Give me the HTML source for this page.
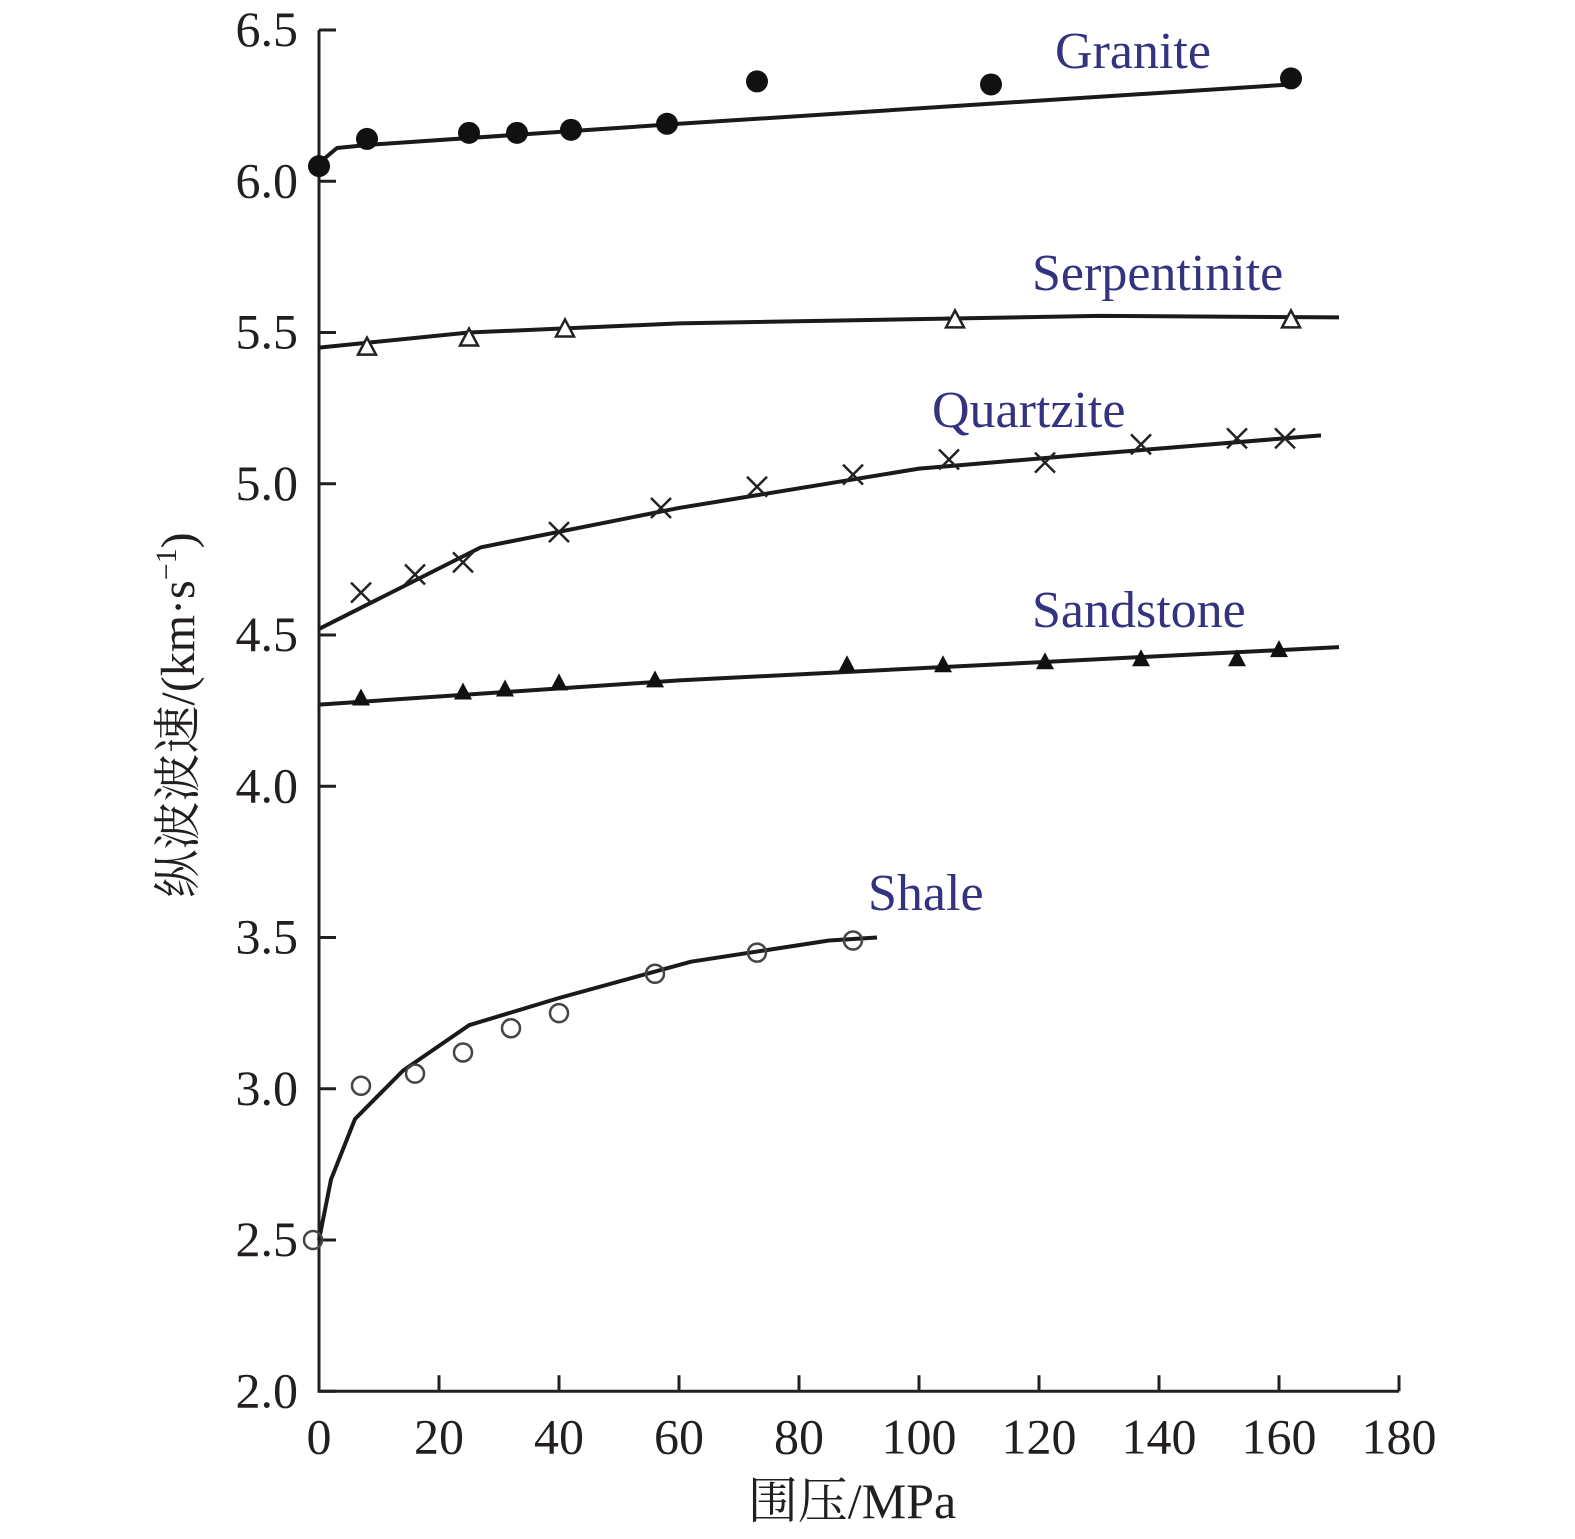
<!DOCTYPE html>
<html><head><meta charset="utf-8"><style>
body{margin:0;background:#fff}
svg{display:block}
text{font-family:"Liberation Serif","Noto Serif CJK SC",serif}
</style></head><body>
<svg id="chart" width="1575" height="1539" viewBox="0 0 1575 1539" xmlns="http://www.w3.org/2000/svg">
<g id="axes"></g>
<g id="series"></g>
<text x="852" y="1518" font-size="50" text-anchor="middle" fill="#231f20">围压/MPa</text>
<text transform="translate(194,715) rotate(-90)" font-size="48" text-anchor="middle" fill="#231f20">纵波波速/(km·s<tspan font-size="30" dy="-18">−1</tspan><tspan dy="18">)</tspan></text>
</svg>
<script>
const xTicks=[0,20,40,60,80,100,120,140,160,180];
const yTicks=[2.0,2.5,3.0,3.5,4.0,4.5,5.0,5.5,6.0,6.5];
const seriesNames=["Granite","Serpentinite","Quartzite","Sandstone","Shale"];
const graniteX=[0,8,25,33,42,58,73,112,162];
const graniteY=[6.05,6.14,6.16,6.16,6.17,6.19,6.33,6.32,6.34];
const graniteLineX=[0,3,8,60,162];
const graniteLineY=[6.06,6.11,6.12,6.19,6.32];
const serpX=[8,25,41,106,162];
const serpY=[5.45,5.48,5.51,5.54,5.54];
const serpLineX=[0,25,60,130,170];
const serpLineY=[5.45,5.50,5.53,5.555,5.55];
const quartzX=[7,16,24,40,57,73,89,105,121,137,153,161];
const quartzY=[4.64,4.70,4.74,4.84,4.92,4.99,5.03,5.08,5.07,5.13,5.15,5.15];
const quartzLineX=[0,10,27,60,100,130,167];
const quartzLineY=[4.52,4.62,4.79,4.92,5.05,5.10,5.16];
const sandX=[7,24,31,40,56,88,104,121,137,153,160];
const sandY=[4.29,4.31,4.32,4.34,4.35,4.40,4.40,4.41,4.42,4.42,4.45];
const sandLineX=[0,60,120,170];
const sandLineY=[4.27,4.35,4.41,4.46];
const shaleX=[-1,7,16,24,32,40,56,73,89];
const shaleY=[2.50,3.01,3.05,3.12,3.20,3.25,3.38,3.45,3.49];
const shaleLineX=[0,2,6,14,25,40,62,85,93];
const shaleLineY=[2.5,2.7,2.9,3.06,3.21,3.30,3.42,3.49,3.50];
const labelPos=[[1055,68],[1032,290],[932,427],[1032,627],[868,910]];

const NS="http://www.w3.org/2000/svg";
const X=v=>319+v*6.0;
const Y=v=>30+(6.5-v)*302.5;
function mk(tag,attrs,parent){const e=document.createElementNS(NS,tag);for(const k in attrs)e.setAttribute(k,attrs[k]);parent.appendChild(e);return e;}
const axes=document.getElementById('axes');
const ser=document.getElementById('series');
let a=mk('path',{d:`M${X(0)},${Y(6.5)}V${Y(2)}H${X(180)}`,fill:'none',stroke:'#231f20','stroke-width':3},axes);


xTicks.forEach(t=>{
  let l=mk('line',{x1:X(t),x2:X(t),y1:Y(2),y2:Y(2)-16,stroke:'#231f20','stroke-width':3},axes);
  
  
  let tx=mk('text',{x:X(t),y:Y(2)+62,'font-size':50,'text-anchor':'middle',fill:'#231f20'},axes);
  tx.textContent=t;
  
  
});
yTicks.forEach(t=>{
  let l=mk('line',{x1:X(0),x2:X(0)+17,y1:Y(t),y2:Y(t),stroke:'#231f20','stroke-width':3},axes);
  
  
  let tx=mk('text',{x:298,y:Y(t)+16,'font-size':50,'text-anchor':'end',fill:'#231f20'},axes);
  tx.textContent=t.toFixed(1);
  
  
});
const data=[
 [graniteX,graniteY,graniteLineX,graniteLineY,'dot'],
 [serpX,serpY,serpLineX,serpLineY,'tri-open'],
 [quartzX,quartzY,quartzLineX,quartzLineY,'cross'],
 [sandX,sandY,sandLineX,sandLineY,'tri'],
 [shaleX,shaleY,shaleLineX,shaleLineY,'circle']];
data.forEach((d,i)=>{
  const g=mk('g',{},ser);
  
  
  const pts=d[2].map((x,j)=>X(x)+','+Y(d[3][j])).join(' ');
  const pl=mk('polyline',{points:pts,fill:'none',stroke:'#1a1a1a','stroke-width':4,'stroke-linejoin':'round'},g);
  
  
  d[0].forEach((x,j)=>{
    const cx=X(x),cy=Y(d[1][j]);let m;
    if(d[4]==='dot')m=mk('circle',{cx,cy,r:11,fill:'#111'},g);
    else if(d[4]==='circle')m=mk('circle',{cx,cy,r:9,fill:'none',stroke:'#444','stroke-width':2.5},g);
    else if(d[4]==='tri-open')m=mk('polygon',{points:`${cx},${cy-10} ${cx-9},${cy+7} ${cx+9},${cy+7}`,fill:'#fff',stroke:'#222','stroke-width':2.5},g);
    else if(d[4]==='tri')m=mk('polygon',{points:`${cx},${cy-10} ${cx-9},${cy+7} ${cx+9},${cy+7}`,fill:'#111'},g);
    else m=mk('path',{d:`M${cx-10},${cy-10}L${cx+10},${cy+10}M${cx+10},${cy-10}L${cx-10},${cy+10}`,stroke:'#222','stroke-width':2.5},g);
    
    
  });
  const lb=mk('text',{x:labelPos[i][0],y:labelPos[i][1],'font-size':52,fill:'#33337f'},g);
  lb.textContent=seriesNames[i];
  
  
});
</script>
</body></html>
